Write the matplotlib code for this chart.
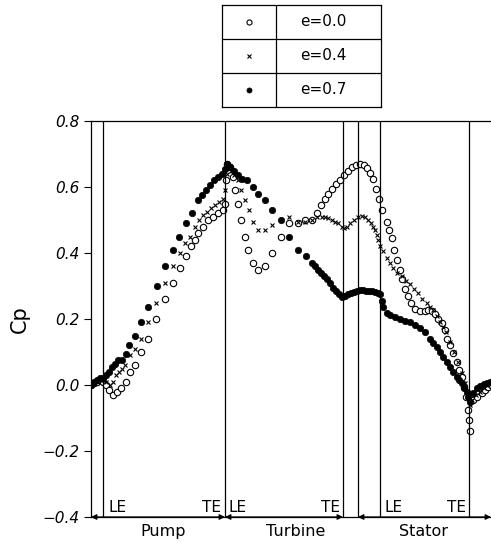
import matplotlib
matplotlib.use("Agg")
import matplotlib.pyplot as plt

# position along the flow path (arbitrary units), pressure coefficient
s_e00 = [0, 3, 6, 9, 12, 15, 18, 22, 26, 30, 34.7, 39, 44, 50, 56.7, 65, 74, 82.3, 89, 95,
         100, 104, 107, 112, 117, 122, 127, 132, 134, 135, 136, 139, 142, 144, 146.7, 150,
         154, 157.3, 162.3, 167.3, 174, 181.3, 189.7, 198.3, 206.7, 214, 220.7, 225.7, 230,
         234, 237.3, 241, 245, 249, 253, 257, 261, 265, 269, 273, 276, 279, 282, 285, 287.5,
         290.7, 295.7, 298.3, 300.7, 303, 306.3, 309, 311, 314, 317.3, 320, 324, 329, 334,
         337.3, 340.7, 344, 347.3, 350.7, 354, 355.7, 359, 362.3, 365.7, 368.3, 370.7, 373,
         375, 377.3, 378.3, 378.5, 382.3, 386, 390.7, 394, 397.3, 400]
cp_e00 = [0.0, 0.005, 0.01, 0.015, 0.01, 0.0, -0.015, -0.03, -0.02, -0.01, 0.01, 0.04, 0.06,
          0.10, 0.14, 0.20, 0.26, 0.31, 0.355, 0.39, 0.42, 0.44, 0.46, 0.48, 0.50, 0.51, 0.52,
          0.53, 0.55, 0.62, 0.67, 0.66, 0.63, 0.59, 0.55, 0.50, 0.45, 0.41, 0.37, 0.35, 0.36,
          0.40, 0.45, 0.49, 0.49, 0.50, 0.50, 0.52, 0.545, 0.565, 0.58, 0.595, 0.61, 0.62,
          0.635, 0.65, 0.66, 0.668, 0.67, 0.667, 0.657, 0.643, 0.625, 0.595, 0.565, 0.53,
          0.495, 0.47, 0.445, 0.41, 0.38, 0.35, 0.32, 0.29, 0.27, 0.25, 0.23, 0.225, 0.224,
          0.227, 0.224, 0.215, 0.20, 0.187, 0.167, 0.14, 0.12, 0.096, 0.07, 0.045, 0.025,
          -0.005, -0.035, -0.076, -0.106, -0.14, -0.045, -0.035, -0.025, -0.015, -0.005, 0.0]

s_e04 = [0, 3, 6, 9, 12, 15, 19, 22, 25, 27.5, 30.7, 34, 39.3, 44, 50, 57.3, 65, 74, 82.3, 89,
         94, 99, 104, 108, 112, 116, 120, 124, 128, 132, 134, 135.5, 137, 140, 143, 146.7, 150,
         154, 158, 162.3, 167.3, 174, 181.3, 189.7, 198.3, 206.7, 214, 220.7, 225.7, 230.7,
         234, 237.3, 240.7, 244, 247, 250.7, 253, 256, 259, 263, 267.3, 270.7, 274, 277, 280,
         282, 284, 286, 287.3, 289, 292, 295.7, 299, 302.3, 306, 310.7, 315, 319, 323, 327.3,
         331, 335.7, 339, 342.3, 346, 349, 352, 355, 359, 363, 367, 371, 374, 377, 378.5,
         381, 385, 389, 393, 397, 400]
cp_e04 = [0.0, 0.005, 0.01, 0.015, 0.015, 0.01, 0.0, 0.01, 0.03, 0.04, 0.05, 0.06, 0.09, 0.11,
          0.14, 0.19, 0.25, 0.31, 0.36, 0.40, 0.43, 0.45, 0.48, 0.50, 0.515, 0.525, 0.535,
          0.545, 0.555, 0.565, 0.59, 0.64, 0.665, 0.65, 0.635, 0.62, 0.59, 0.56, 0.53, 0.495,
          0.47, 0.47, 0.485, 0.50, 0.51, 0.495, 0.495, 0.50, 0.51, 0.51, 0.51, 0.505, 0.50,
          0.495, 0.49, 0.48, 0.475, 0.48, 0.49, 0.50, 0.51, 0.512, 0.51, 0.50, 0.49, 0.48,
          0.47, 0.455, 0.44, 0.42, 0.405, 0.385, 0.37, 0.355, 0.34, 0.33, 0.315, 0.305, 0.29,
          0.28, 0.26, 0.25, 0.235, 0.227, 0.21, 0.19, 0.175, 0.16, 0.13, 0.10, 0.07, 0.035,
          0.005, -0.03, -0.06, -0.045, -0.03, -0.02, -0.01, 0.0, 0.005]

s_e07 = [0, 3, 6, 9, 12, 15, 18, 21, 24, 27, 30.7, 34.7, 38.3, 44, 50, 57.3, 65.7, 74, 82.3,
         88.3, 95, 100.7, 107.3, 111, 115, 119, 123, 127, 131, 134, 136, 139, 143, 147, 151,
         155.7, 162, 167, 174, 181.3, 189.7, 198.3, 207.3, 214.7, 220.7, 224, 227, 230, 233,
         236, 239, 242, 245, 248, 251, 254, 257, 260, 263, 266, 269, 272, 275, 278, 281, 284,
         287, 289, 290.7, 292.3, 295.7, 299, 304, 309, 314, 319, 324, 329, 334, 339, 342.3,
         345.7, 349, 352.3, 355.7, 359, 362.3, 365.7, 368, 370.7, 373, 375.7, 377.3, 378.5,
         382, 385.7, 389, 393, 396, 399]
cp_e07 = [0.0, 0.008, 0.015, 0.02, 0.02, 0.03, 0.04, 0.055, 0.065, 0.075, 0.075, 0.095, 0.12,
          0.15, 0.19, 0.235, 0.30, 0.36, 0.41, 0.45, 0.49, 0.52, 0.56, 0.575, 0.59, 0.605,
          0.62, 0.63, 0.64, 0.655, 0.67, 0.66, 0.65, 0.635, 0.625, 0.62, 0.60, 0.58, 0.56,
          0.53, 0.50, 0.45, 0.41, 0.39, 0.37, 0.36, 0.35, 0.34, 0.33, 0.32, 0.31, 0.295,
          0.285, 0.275, 0.268, 0.27, 0.275, 0.28, 0.283, 0.285, 0.287, 0.287, 0.286, 0.285,
          0.284, 0.283, 0.28, 0.275, 0.255, 0.235, 0.217, 0.212, 0.205, 0.20, 0.195, 0.19,
          0.182, 0.172, 0.16, 0.14, 0.128, 0.116, 0.10, 0.086, 0.07, 0.055, 0.04, 0.025, 0.015,
          0.005, -0.008, -0.02, -0.035, -0.05, -0.025, -0.01, -0.003, 0.002, 0.006, 0.01]

series_labels = ["e=0.0", "e=0.4", "e=0.7"]
series_s = [s_e00, s_e04, s_e07]
series_cp = [cp_e00, cp_e04, cp_e07]

yticks = [-0.4, -0.2, 0.0, 0.2, 0.4, 0.6, 0.8]
ytick_labels = ["\u22120.4", "\u22120.2", "0.0", "0.2", "0.4", "0.6", "0.8"]

# blade edges / component boundaries along the path
boundaries = [12, 134, 252, 267, 289, 378]
edge_labels = [("LE", 17, "left"), ("TE", 130, "right"), ("LE", 138, "left"),
               ("TE", 249, "right"), ("LE", 293, "left"), ("TE", 375, "right")]
components = [("Pump", 0, 134, 72), ("Turbine", 134, 252, 205), ("Stator", 267, 400, 332)]

styles = [dict(marker="o", mfc="white", mec="black", ms=4.6, mew=0.8),
          dict(marker="x", mfc="black", mec="black", ms=3.0, mew=0.8),
          dict(marker="o", mfc="black", mec="black", ms=4.6, mew=0.5)]

W, H = 491, 543
fig = plt.figure(figsize=(W / 100, H / 100), dpi=100)
ax = fig.add_axes([91 / W, 1 - 517 / H, 400 / W, 396 / H])

for s, cp, st in zip(series_s, series_cp, styles):
    ax.plot(s, cp, linestyle="none", color="black", **st)

for b in boundaries:
    ax.axvline(b, color="black", lw=0.9)

ax.set_xlim(0, 400)
ax.set_ylim(-0.4, 0.8)
ax.set_xticks([])
ax.set_yticks(yticks)
ax.set_yticklabels(ytick_labels, fontsize=11, style="italic")
ax.tick_params(axis="y", direction="out", length=5, width=0.8, pad=3)
ax.spines["right"].set_visible(False)
for sp in ["left", "top", "bottom"]:
    ax.spines[sp].set_linewidth(0.9)

ax.set_ylabel("Cp", fontsize=15, labelpad=9)

for txt, x, ha in edge_labels:
    ax.text(x, -0.37, txt, ha=ha, va="center", fontsize=11)

for name, a, b, xc in components:
    ax.annotate("", xy=(a, -0.4), xytext=(b, -0.4),
                arrowprops=dict(arrowstyle="<|-|>", color="black", lw=0.9,
                                mutation_scale=8, shrinkA=0, shrinkB=0),
                annotation_clip=False)
    ax.text(xc, -0.036, name, transform=ax.get_xaxis_transform(),
            ha="center", va="center", fontsize=11.5)

# legend table
lax = fig.add_axes([222 / W, 1 - 107 / H, 159 / W, 102 / H])
lax.set_xlim(0, 159)
lax.set_ylim(3, 0)
lax.set_xticks([])
lax.set_yticks([])
for sp in lax.spines.values():
    sp.set_linewidth(0.9)
lax.axvline(54, color="black", lw=0.9)
for r in [1, 2]:
    lax.axhline(r, color="black", lw=0.9)
for i, (lab, st) in enumerate(zip(series_labels, styles)):
    small = dict(st)
    small["ms"] = st["ms"] * 0.8
    lax.plot([27], [i + 0.5], linestyle="none", color="black", **small)
    lax.text(101, i + 0.5, lab, ha="center", va="center", fontsize=11)

fig.savefig("out.png", dpi=100)
